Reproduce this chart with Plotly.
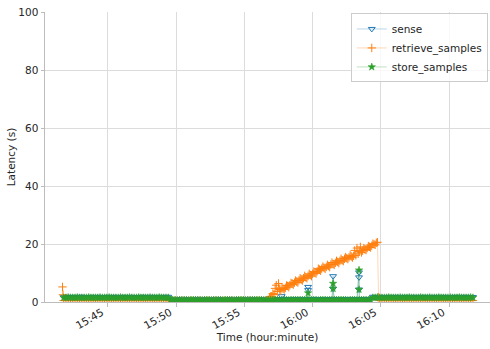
import plotly.graph_objects as go

DAY = "2021-06-15 "

# Sampling instants (10 s cadence) for the sense / store series and the retrieve baseline
times = [
    # phase 1
    "15:41:45", "15:41:55",
    "15:42:05", "15:42:15", "15:42:25", "15:42:35", "15:42:45", "15:42:55",
    "15:43:05", "15:43:15", "15:43:25", "15:43:35", "15:43:45", "15:43:55",
    "15:44:05", "15:44:15", "15:44:25", "15:44:35", "15:44:45", "15:44:55",
    "15:45:05", "15:45:15", "15:45:25", "15:45:35", "15:45:45", "15:45:55",
    "15:46:05", "15:46:15", "15:46:25", "15:46:35", "15:46:45", "15:46:55",
    "15:47:05", "15:47:15", "15:47:25", "15:47:35", "15:47:45", "15:47:55",
    "15:48:05", "15:48:15", "15:48:25", "15:48:35", "15:48:45", "15:48:55",
    "15:49:05", "15:49:15", "15:49:25",
    # phase 2
    "15:49:35", "15:49:45", "15:49:55",
    "15:50:05", "15:50:15", "15:50:25", "15:50:35", "15:50:45", "15:50:55",
    "15:51:05", "15:51:15", "15:51:25", "15:51:35", "15:51:45", "15:51:55",
    "15:52:05", "15:52:15", "15:52:25", "15:52:35", "15:52:45", "15:52:55",
    "15:53:05", "15:53:15", "15:53:25", "15:53:35", "15:53:45", "15:53:55",
    "15:54:05", "15:54:15", "15:54:25", "15:54:35", "15:54:45", "15:54:55",
    "15:55:05", "15:55:15", "15:55:25", "15:55:35", "15:55:45", "15:55:55",
    "15:56:05", "15:56:15", "15:56:25", "15:56:35", "15:56:45", "15:56:55",
    "15:57:05", "15:57:15", "15:57:25", "15:57:35", "15:57:45", "15:57:55",
    "15:58:05", "15:58:15", "15:58:25", "15:58:35", "15:58:45", "15:58:55",
    "15:59:05", "15:59:15", "15:59:25", "15:59:35", "15:59:45", "15:59:55",
    "16:00:05", "16:00:15", "16:00:25", "16:00:35", "16:00:45", "16:00:55",
    "16:01:05", "16:01:15", "16:01:25", "16:01:35", "16:01:45", "16:01:55",
    "16:02:05", "16:02:15", "16:02:25", "16:02:35", "16:02:45", "16:02:55",
    "16:03:05", "16:03:15", "16:03:25", "16:03:35", "16:03:45", "16:03:55",
    "16:04:05", "16:04:15",
    # phase 3
    "16:04:25", "16:04:35", "16:04:45", "16:04:55",
    "16:05:05", "16:05:15", "16:05:25", "16:05:35", "16:05:45", "16:05:55",
    "16:06:05", "16:06:15", "16:06:25", "16:06:35", "16:06:45", "16:06:55",
    "16:07:05", "16:07:15", "16:07:25", "16:07:35", "16:07:45", "16:07:55",
    "16:08:05", "16:08:15", "16:08:25", "16:08:35", "16:08:45", "16:08:55",
    "16:09:05", "16:09:15", "16:09:25", "16:09:35", "16:09:45", "16:09:55",
    "16:10:05", "16:10:15", "16:10:25", "16:10:35", "16:10:45", "16:10:55",
    "16:11:05", "16:11:15", "16:11:25", "16:11:35", "16:11:45",
]

sense_base = [
    # phase 1
    1.7, 1.8,
    1.7, 1.7, 1.8, 1.7, 1.7, 1.8,
    1.8, 1.7, 1.7, 1.7, 1.8, 1.7,
    1.7, 1.8, 1.7, 1.7, 1.7, 1.8,
    1.7, 1.7, 1.8, 1.7, 1.7, 1.7,
    1.8, 1.7, 1.7, 1.8, 1.7, 1.7,
    1.7, 1.7, 1.8, 1.7, 1.8, 1.7,
    1.7, 1.8, 1.7, 1.7, 1.7, 1.8,
    1.7, 1.7, 1.8,
    # phase 2
    0.9, 0.9, 0.8,
    0.9, 0.9, 0.9, 0.8, 0.9, 0.9,
    0.9, 0.8, 0.9, 0.9, 0.9, 0.9,
    0.8, 0.9, 0.9, 0.9, 0.8, 0.9,
    0.9, 0.9, 0.9, 0.8, 0.9, 0.9,
    0.9, 0.9, 0.8, 0.9, 0.9, 0.9,
    0.8, 0.9, 0.9, 0.9, 0.9, 0.8,
    0.9, 0.9, 0.8, 0.9, 0.9, 0.9,
    1.0, 0.9, 0.9, 1.0, 0.9, 0.9,
    1.0, 0.9, 0.9, 1.0, 0.9, 0.9,
    1.0, 0.9, 0.9, 0.9, 1.0, 0.9,
    0.9, 1.0, 0.9, 0.9, 1.0, 0.9,
    0.9, 1.0, 0.9, 0.9, 0.9, 1.0,
    0.9, 0.9, 1.0, 0.9, 0.9, 1.0,
    0.9, 1.0, 0.9, 0.9, 1.0, 0.9,
    0.9, 1.0,
    # phase 3
    1.8, 1.7, 1.7, 1.8,
    1.7, 1.7, 1.7, 1.8, 1.7, 1.7,
    1.8, 1.7, 1.7, 1.7, 1.8, 1.7,
    1.7, 1.8, 1.7, 1.7, 1.7, 1.8,
    1.7, 1.7, 1.8, 1.7, 1.7, 1.7,
    1.8, 1.7, 1.7, 1.8, 1.7, 1.7,
    1.7, 1.7, 1.8, 1.7, 1.8, 1.7,
    1.7, 1.8, 1.7, 1.7, 1.7,
]

store_base = [
    # phase 1
    1.5, 1.5,
    1.6, 1.5, 1.5, 1.5, 1.6, 1.5,
    1.5, 1.5, 1.5, 1.6, 1.5, 1.5,
    1.5, 1.5, 1.6, 1.5, 1.5, 1.5,
    1.6, 1.5, 1.5, 1.5, 1.5, 1.6,
    1.5, 1.5, 1.5, 1.6, 1.5, 1.5,
    1.5, 1.6, 1.5, 1.5, 1.5, 1.5,
    1.6, 1.5, 1.5, 1.5, 1.6, 1.5,
    1.5, 1.5, 1.5,
    # phase 2
    0.7, 0.7, 0.7,
    0.6, 0.7, 0.7, 0.7, 0.7, 0.6,
    0.7, 0.7, 0.7, 0.7, 0.7, 0.6,
    0.7, 0.7, 0.7, 0.6, 0.7, 0.7,
    0.7, 0.7, 0.6, 0.7, 0.7, 0.7,
    0.7, 0.6, 0.7, 0.7, 0.7, 0.7,
    0.6, 0.7, 0.7, 0.7, 0.7, 0.7,
    0.7, 0.7, 0.6, 0.7, 0.7, 0.7,
    0.7, 0.7, 0.7, 0.6, 0.7, 0.7,
    0.7, 0.6, 0.7, 0.7, 0.7, 0.7,
    0.7, 0.7, 0.7, 0.7, 0.6, 0.7,
    0.7, 0.7, 0.6, 0.7, 0.7, 0.7,
    0.6, 0.7, 0.7, 0.7, 0.7, 0.7,
    0.7, 0.7, 0.7, 0.6, 0.7, 0.7,
    0.7, 0.6, 0.7, 0.7, 0.7, 0.7,
    0.7, 0.7,
    # phase 3
    1.5, 1.5, 1.6, 1.5,
    1.5, 1.5, 1.5, 1.6, 1.5, 1.5,
    1.5, 1.5, 1.6, 1.5, 1.5, 1.5,
    1.6, 1.5, 1.5, 1.5, 1.5, 1.6,
    1.5, 1.5, 1.5, 1.6, 1.5, 1.5,
    1.5, 1.6, 1.5, 1.5, 1.5, 1.5,
    1.6, 1.5, 1.5, 1.5, 1.6, 1.5,
    1.5, 1.5, 1.5, 1.6, 1.5,
]

# None marks instants where the retrieve backlog samples below take over
retrieve_base = [
    # phase 1
    0.5, 0.5,
    0.5, 0.5, 0.5, 0.5, 0.5, 0.5,
    0.5, 0.5, 0.5, 0.5, 0.5, 0.5,
    0.5, 0.5, 0.5, 0.5, 0.5, 0.5,
    0.5, 0.5, 0.5, 0.5, 0.5, 0.5,
    0.5, 0.5, 0.5, 0.5, 0.5, 0.5,
    0.5, 0.5, 0.5, 0.5, 0.5, 0.5,
    0.5, 0.5, 0.5, 0.5, 0.5, 0.5,
    0.5, 0.5, 0.5,
    # phase 2
    0.4, 0.4, 0.4,
    0.4, 0.4, 0.4, 0.4, 0.4, 0.4,
    0.4, 0.4, 0.4, 0.4, 0.4, 0.4,
    0.4, 0.4, 0.4, 0.4, 0.4, 0.4,
    0.4, 0.4, 0.4, 0.4, 0.4, 0.4,
    0.4, 0.4, 0.4, 0.4, 0.4, 0.4,
    0.4, 0.4, 0.4, 0.4, 0.4, 0.4,
    0.4, 0.4, 0.4, 0.4, 0.4, None,
    None, None, None, None, None, None,
    None, None, None, None, None, None,
    None, None, None, None, None, None,
    None, None, None, None, None, None,
    None, None, None, None, None, None,
    None, None, None, None, None, None,
    None, None, None, None, None, None,
    None, None,
    # phase 3
    None, None, None, 0.5,
    0.5, 0.5, 0.5, 0.5, 0.5, 0.5,
    0.5, 0.5, 0.5, 0.5, 0.5, 0.5,
    0.5, 0.5, 0.5, 0.5, 0.5, 0.5,
    0.5, 0.5, 0.5, 0.5, 0.5, 0.5,
    0.5, 0.5, 0.5, 0.5, 0.5, 0.5,
    0.5, 0.5, 0.5, 0.5, 0.5, 0.5,
    0.5, 0.5, 0.5, 0.5, 0.5,
]

# Occasional slow requests
sense_spike_t = ["15:57:44", "15:59:40", "15:59:40", "16:01:30", "16:01:30", "16:03:24", "16:03:24", "16:03:24"]
sense_spike_v = [2.0, 5.2, 4.1, 8.9, 4.6, 10.2, 8.5, 4.3]
store_spike_t = ["15:59:40", "16:01:30", "16:01:30", "16:03:24", "16:03:24"]
store_spike_v = [3.1, 6.4, 4.6, 11.0, 4.3]

# Retrieval backlog: start-up outliers, then the build-up (5 s cadence) and the flush
retrieve_ramp_t = [
    "15:41:40", "15:41:42",
    "15:56:50", "15:56:55", "15:57:00", "15:57:05", "15:57:10", "15:57:15", "15:57:20", "15:57:25",
    "15:57:30", "15:57:35", "15:57:40", "15:57:45", "15:57:50", "15:57:55", "15:58:00", "15:58:05",
    "15:58:10", "15:58:15", "15:58:20", "15:58:25", "15:58:30", "15:58:35", "15:58:40", "15:58:45",
    "15:58:50", "15:58:55", "15:59:00", "15:59:05", "15:59:10", "15:59:15", "15:59:20", "15:59:25",
    "15:59:30", "15:59:35", "15:59:40", "15:59:45", "15:59:50", "15:59:55", "16:00:00", "16:00:05",
    "16:00:10", "16:00:15", "16:00:20", "16:00:25", "16:00:30", "16:00:35", "16:00:40", "16:00:45",
    "16:00:50", "16:00:55", "16:01:00", "16:01:05", "16:01:10", "16:01:15", "16:01:20", "16:01:25",
    "16:01:30", "16:01:35", "16:01:40", "16:01:45", "16:01:50", "16:01:55", "16:02:00", "16:02:05",
    "16:02:10", "16:02:15", "16:02:20", "16:02:25", "16:02:30", "16:02:35", "16:02:40", "16:02:45",
    "16:02:50", "16:02:55", "16:03:00", "16:03:05", "16:03:10", "16:03:15", "16:03:20", "16:03:25",
    "16:03:30", "16:03:35", "16:03:40", "16:03:45", "16:03:50", "16:03:55", "16:04:00", "16:04:05",
    "16:04:10", "16:04:15", "16:04:20", "16:04:25", "16:04:30", "16:04:35", "16:04:40", "16:04:45",
    "16:04:50",
]
retrieve_ramp_v = [
    5.2, 2.5,
    1.4, 1.9, 2.0, 2.9, 2.6, 4.7, 5.8, 3.6,
    6.4, 4.3, 3.9, 4.8, 4.6, 4.3, 4.9, 5.7,
    5.5, 5.1, 5.8, 6.6, 6.4, 6.0, 6.7, 7.4,
    7.0, 6.7, 7.5, 8.2, 7.7, 7.4, 8.2, 9.0,
    8.5, 8.2, 9.0, 9.7, 9.3, 8.9, 9.7, 10.5,
    10.2, 9.8, 10.6, 11.5, 11.2, 10.8, 11.5, 12.2,
    11.8, 11.4, 12.1, 12.8, 12.4, 12.0, 12.9, 13.6,
    13.1, 12.8, 13.5, 14.2, 13.8, 13.4, 14.2, 14.9,
    14.4, 14.1, 14.9, 15.5, 15.1, 14.8, 15.4, 16.1,
    15.7, 15.3, 15.9, 17.8, 16.1, 18.6, 16.6, 17.4,
    19.0, 17.1, 17.7, 18.6, 18.1, 17.9, 18.6, 19.3,
    19.0, 18.8, 19.4, 20.1, 19.9, 19.7, 20.4, 20.6,
    1.6,
]


def merge(base_t, base_v, extra_t, extra_v):
    pts = [(t, v) for t, v in zip(base_t, base_v) if v is not None]
    pts += list(zip(extra_t, extra_v))
    pts.sort(key=lambda p: p[0])
    return [DAY + t for t, _ in pts], [v for _, v in pts]


sense_x, sense_y = merge(times, sense_base, sense_spike_t, sense_spike_v)
store_x, store_y = merge(times, store_base, store_spike_t, store_spike_v)
retr_x, retr_y = merge(times, retrieve_base, retrieve_ramp_t, retrieve_ramp_v)

BLUE, ORANGE, GREEN = "#1f77b4", "#ff7f0e", "#2ca02c"
FONT = "DejaVu Sans"
TEXT = "#262626"

fig = go.Figure()
fig.add_trace(go.Scatter(
    x=sense_x, y=sense_y, name="sense", mode="lines+markers",
    line=dict(color="rgba(31,119,180,0.3)", width=1),
    marker=dict(symbol="triangle-down-open", size=6, color=BLUE, line=dict(width=1, color=BLUE)),
))
fig.add_trace(go.Scatter(
    x=retr_x, y=retr_y, name="retrieve_samples", mode="lines+markers",
    line=dict(color="rgba(255,127,14,0.3)", width=1),
    marker=dict(symbol="cross-thin", size=6, color=ORANGE, line=dict(width=1, color=ORANGE)),
))
fig.add_trace(go.Scatter(
    x=store_x, y=store_y, name="store_samples", mode="lines+markers",
    line=dict(color="rgba(44,160,44,0.3)", width=1),
    marker=dict(symbol="star", size=5.5, color=GREEN, line=dict(width=0.6, color=GREEN)),
))

axis_common = dict(
    showgrid=True, gridcolor="#dcdcdc", gridwidth=1,
    showline=True, linecolor="#bcbcbc", linewidth=1, mirror=False,
    ticks="outside", ticklen=3.5, tickcolor="#bcbcbc", tickwidth=1,
    zeroline=False, automargin=True,
    tickfont=dict(family=FONT, size=10.5, color=TEXT),
    title_font=dict(family=FONT, size=10.5, color=TEXT),
)

fig.update_layout(
    width=490, height=349,
    margin=dict(l=45, r=0, t=12, b=47),
    paper_bgcolor="white", plot_bgcolor="white",
    font=dict(family=FONT, size=10.5, color=TEXT),
    showlegend=True,
    legend=dict(
        x=0.995, y=0.995, xanchor="right", yanchor="top",
        bgcolor="rgba(255,255,255,0.8)", bordercolor="#cccccc", borderwidth=1,
        font=dict(family=FONT, size=10.5, color=TEXT),
        tracegroupgap=0,
    ),
    xaxis=dict(
        type="date",
        range=[DAY + "15:40:23", DAY + "16:13:00"],
        tick0=DAY + "15:45:00", dtick=300000, tickformat="%H:%M",
        tickangle=-30, ticklabelshift=-6, ticklabelstandoff=-4,
        title=dict(text="Time (hour:minute)", standoff=1),
        **axis_common,
    ),
    yaxis=dict(
        range=[0, 100], dtick=20,
        title=dict(text="Latency (s)", standoff=0),
        **axis_common,
    ),
)

fig.write_html("out.html")
